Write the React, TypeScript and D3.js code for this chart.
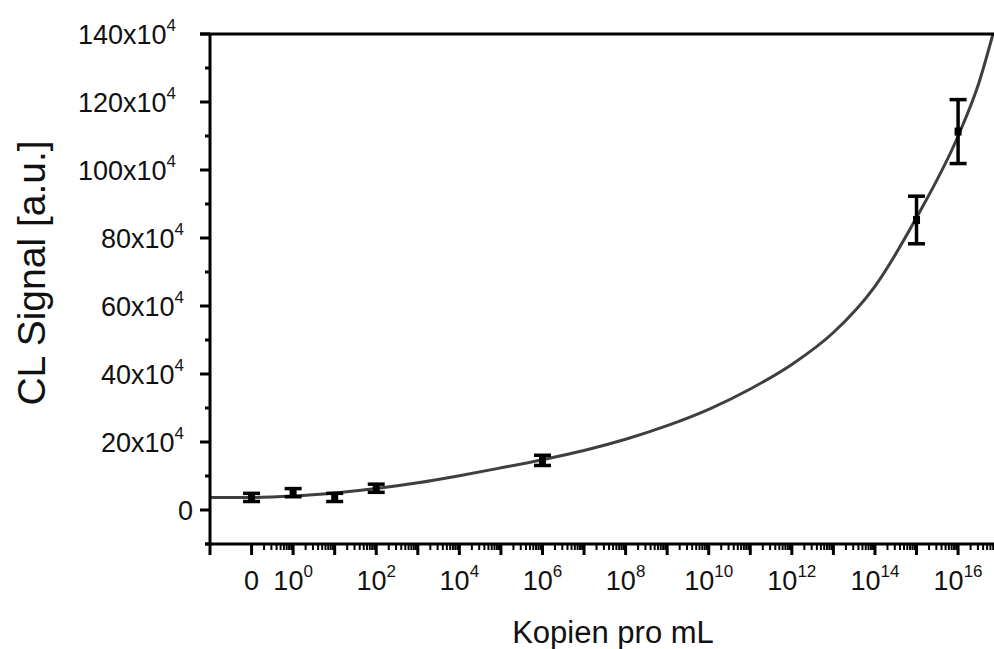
import * as d3 from 'd3';

// fitted curve, x as log10 of copies/mL, y in units of 10^4
const curveExp = [-2, -1, 0, 1, 2, 3, 4, 5, 6, 7, 8, 9, 10, 11, 12, 13, 14, 15, 16, 16.5, 16.84];
const curveY = [3.7, 3.7, 4.1, 5.0, 6.3, 8.0, 10.1, 12.4, 14.8, 17.5, 20.8, 24.8, 29.6, 35.6, 42.8, 52.2, 65.8, 86.0, 110.0, 125.6, 140];

// measured points ("0" copies is drawn at 10^-1)
const pointExp = [-1, 0, 1, 2, 6, 15, 16];
const pointY = [3.7, 5.1, 3.7, 6.4, 14.6, 85.3, 111.3];
const pointErr = [1.2, 1.2, 1.2, 1.2, 1.5, 7.0, 9.4];

const yTicks = [0, 20, 40, 60, 80, 100, 120, 140];
const yMinor = [-10, 10, 30, 50, 70, 90, 110, 130];
const xLabelExp = [-1, 0, 2, 4, 6, 8, 10, 12, 14, 16];

const W = 994;
const H = 649;
const FONT = '"Liberation Sans", Arial, sans-serif';

export default function App() {
  const x = d3.scaleLog().domain([1e-2, 1e17]).range([210, 210 + 19 * 41.56]);
  const y = d3.scaleLinear().domain([-10, 140]).range([544, 34]);

  const xMajor = d3.range(-2, 18).map(e => Math.pow(10, e));
  const xMinor: number[] = [];
  for (let e = -1; e <= 16; e++) {
    for (let m = 2; m <= 9; m++) xMinor.push(m * Math.pow(10, e));
  }

  const line = d3.line<number>()
    .x((_, i) => x(Math.pow(10, curveExp[i])))
    .y(d => y(d))
    .curve(d3.curveMonotoneX);

  const axisTop = y(140);
  const axisBottom = y(-10);
  const axisLeft = x(1e-2);

  return (
    <div style={{ position: 'absolute', left: 0, top: 0 }}>
      <svg width={W} height={H} style={{ display: 'block', background: '#fff' }} fontFamily={FONT}>
        {/* fit curve */}
        <path d={line(curveY) || ''} fill="none" stroke="#3f3f3f" strokeWidth={3} />

        {/* error bars + markers */}
        {pointExp.map((e, i) => {
          const cx = x(Math.pow(10, e));
          const top = y(pointY[i] + pointErr[i]);
          const bot = y(pointY[i] - pointErr[i]);
          return (
            <g key={i} stroke="#000" strokeWidth={3.5}>
              <line x1={cx} x2={cx} y1={top} y2={bot} />
              <line x1={cx - 8.5} x2={cx + 8.5} y1={top} y2={top} />
              <line x1={cx - 8.5} x2={cx + 8.5} y1={bot} y2={bot} />
              <rect x={cx - 3.5} y={y(pointY[i]) - 4} width={7} height={8} fill="#000" stroke="none" />
            </g>
          );
        })}

        {/* frame */}
        <g stroke="#000" strokeWidth={3} fill="none">
          <line x1={axisLeft - 10} x2={W} y1={axisTop} y2={axisTop} />
          <line x1={axisLeft} x2={axisLeft} y1={axisTop} y2={axisBottom + 1.5} />
          <line x1={axisLeft - 5} x2={W} y1={axisBottom} y2={axisBottom} />
        </g>

        {/* y ticks */}
        <g stroke="#000" strokeWidth={3}>
          {yTicks.map(t => (
            <line key={t} x1={axisLeft - 10} x2={axisLeft} y1={y(t)} y2={y(t)} />
          ))}
          {yMinor.map(t => (
            <line key={t} x1={axisLeft - 5} x2={axisLeft} y1={y(t)} y2={y(t)} />
          ))}
        </g>
        {yTicks.map(t => {
          const digits = String(t).length;
          const xr = 192 - 8 * (digits - 1);
          return t === 0 ? (
            <text key={t} x={193} y={y(t) + 9.5} textAnchor="end" fontSize={27} fill="#111">0</text>
          ) : (
            <text key={t} x={xr} y={y(t) + 9.5} textAnchor="end" fontSize={27} fill="#111">
              {t}x10<tspan fontSize={17} dy={-13}>4</tspan>
            </text>
          );
        })}

        {/* x ticks */}
        <g stroke="#000">
          {xMajor.map(v => (
            <line key={v} x1={x(v)} x2={x(v)} y1={axisBottom} y2={axisBottom + 11} strokeWidth={3} />
          ))}
          {xMinor.map(v => (
            <line key={v} x1={x(v)} x2={x(v)} y1={axisBottom} y2={axisBottom + 6} strokeWidth={2} />
          ))}
        </g>
        {xLabelExp.map(e => (
          <text key={e} x={x(Math.pow(10, e))} y={590} textAnchor="middle" fontSize={27} fill="#111">
            {e === -1 ? '0' : (
              <>
                10<tspan fontSize={17} dy={-13}>{e}</tspan>
              </>
            )}
          </text>
        ))}

        {/* axis titles */}
        <text x={613} y={643} textAnchor="middle" fontSize={31} fill="#111">Kopien pro mL</text>
        <text transform={`translate(45,273) rotate(-90)`} textAnchor="middle" fontSize={39} fill="#111">CL Signal [a.u.]</text>
      </svg>
    </div>
  );
}
